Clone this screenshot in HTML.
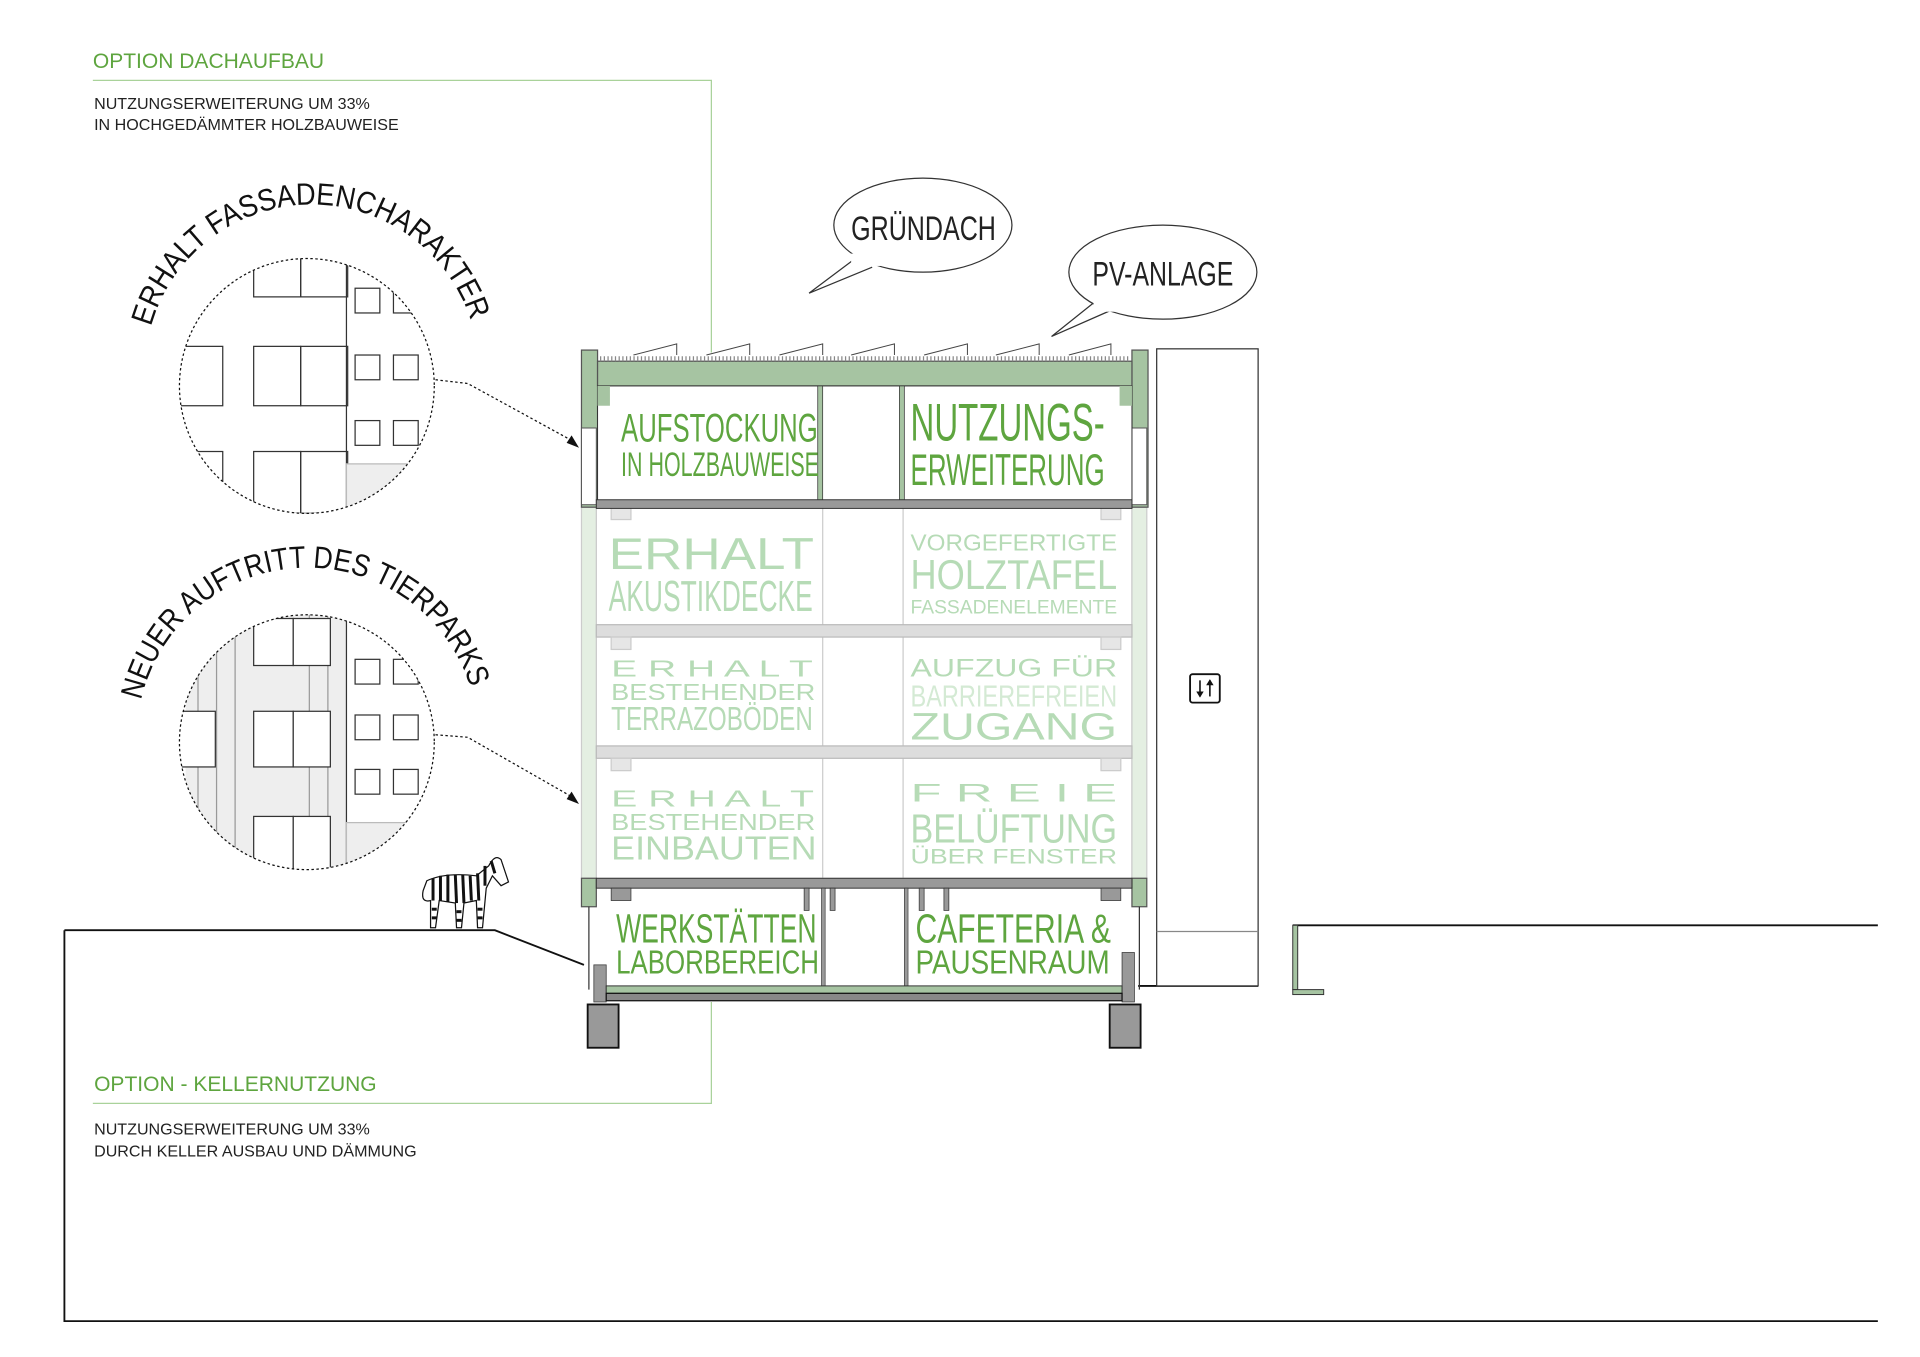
<!DOCTYPE html>
<html><head><meta charset="utf-8"><style>
html,body{margin:0;padding:0;background:#fff;}
svg{display:block;}
text{font-family:"Liberation Sans Narrow","Liberation Sans",sans-serif;}
.g{fill:#5ea53f}
.p{fill:#b6dbb6}
.p2{fill:#d4ead4}
</style></head><body>
<svg width="1920" height="1357" viewBox="0 0 1552 1097" xmlns="http://www.w3.org/2000/svg">
<rect width="1552" height="1097" fill="#fff"/>
<g stroke="#a9d29a" stroke-width="1" fill="none">
<polyline points="75,65 575,65 575,285"/>
<polyline points="575,810 575,892 75,892"/>
</g>
<text x="75" y="55" font-size="17" class="g" style="font-family:'Liberation Sans'">OPTION DACHAUFBAU</text>
<text x="76" y="88" font-size="13" style="font-family:'Liberation Sans'" fill="#222">NUTZUNGSERWEITERUNG UM 33%</text>
<text x="76" y="105" font-size="13" style="font-family:'Liberation Sans'" fill="#222">IN HOCHGEDÄMMTER HOLZBAUWEISE</text>
<text x="76" y="882" font-size="17" class="g" style="font-family:'Liberation Sans'">OPTION - KELLERNUTZUNG</text>
<text x="76" y="917" font-size="13" style="font-family:'Liberation Sans'" fill="#222">NUTZUNGSERWEITERUNG UM 33%</text>
<text x="76" y="935" font-size="13" style="font-family:'Liberation Sans'" fill="#222">DURCH KELLER AUSBAU UND DÄMMUNG</text>

<g stroke="#111" stroke-width="1.5" fill="none">
<polyline points="52,752 52,1068 1518,1068"/>
<polyline points="52,752 400,752 472,780"/>
<polyline points="920,797 1017,797"/>
<polyline points="1045,748 1518,748"/>
</g>
<rect x="1045" y="748" width="4" height="52" fill="#a6c4a2" stroke="#333" stroke-width="0.8"/>
<rect x="1045" y="800" width="25" height="4" fill="#a6c4a2" stroke="#333" stroke-width="0.8"/>

<rect x="935" y="282" width="82" height="515" fill="#fff" stroke="#333" stroke-width="1"/>
<line x1="935" y1="753" x2="1017" y2="753" stroke="#888"/>
<rect x="962" y="545" width="24" height="23" rx="2" fill="#fff" stroke="#111" stroke-width="1.5"/>
<g stroke="#111" stroke-width="1.3"><line x1="970" y1="550" x2="970" y2="563"/><line x1="978" y1="550" x2="978" y2="563"/></g>
<polygon points="967,559 973,559 970,564" fill="#111"/><polygon points="975,554 981,554 978,549" fill="#111"/>

<g fill="none" stroke="#ccc" stroke-width="1">
<rect x="482" y="410" width="433" height="300"/>
<line x1="665" y1="410" x2="665" y2="710"/><line x1="730" y1="410" x2="730" y2="710"/>
</g>
<rect x="470" y="410" width="12" height="300" fill="#e4efe2" stroke="#ccc"/>
<rect x="915" y="410" width="12" height="300" fill="#e4efe2" stroke="#ccc"/>
<rect x="482" y="505" width="433" height="10" fill="#ddd" stroke="#bbb"/>
<rect x="482" y="603" width="433" height="10" fill="#ddd" stroke="#bbb"/>
<g fill="#e6e6e6" stroke="#ccc">
<rect x="494" y="410" width="16" height="10"/><rect x="890" y="410" width="16" height="10"/>
<rect x="494" y="515" width="16" height="10"/><rect x="890" y="515" width="16" height="10"/>
<rect x="494" y="613" width="16" height="10"/><rect x="890" y="613" width="16" height="10"/>
</g>
<rect x="470" y="283" width="13" height="127" fill="#a6c4a2" stroke="#555" stroke-width="1"/>
<rect x="915" y="283" width="13" height="127" fill="#a6c4a2" stroke="#555" stroke-width="1"/>
<rect x="470" y="346" width="12" height="62" fill="#fff" stroke="#555" stroke-width="0.8"/>
<rect x="915" y="346" width="12" height="62" fill="#fff" stroke="#555" stroke-width="0.8"/>
<rect x="483" y="292" width="432" height="20" fill="#a6c4a2" stroke="#555" stroke-width="1"/>
<line x1="485" y1="290" x2="913" y2="290" stroke="#888" stroke-dasharray="1,2" stroke-width="4"/>
<g stroke="#444" stroke-width="0.8" fill="none">
<polyline points="512,287 547,278 547,287"/>
<polyline points="571,287 606,278 606,287"/>
<polyline points="630,287 665,278 665,287"/>
<polyline points="688,287 723,278 723,287"/>
<polyline points="747,287 782,278 782,287"/>
<polyline points="805,287 840,278 840,287"/>
<polyline points="864,287 898,278 898,287"/>
</g>
<rect x="483" y="312" width="432" height="93" fill="#fff" stroke="#333" stroke-width="0.8"/>
<rect x="483" y="312" width="10" height="16" fill="#a6c4a2"/><rect x="905" y="312" width="10" height="16" fill="#a6c4a2"/>
<rect x="661" y="312" width="4" height="93" fill="#a6c4a2" stroke="#333" stroke-width="0.6"/>
<rect x="727" y="312" width="4" height="93" fill="#a6c4a2" stroke="#333" stroke-width="0.6"/>
<rect x="482" y="404" width="433" height="7" fill="#999" stroke="#333" stroke-width="0.8"/>
<rect x="470" y="710" width="12" height="23" fill="#a6c4a2" stroke="#555"/>
<rect x="915" y="710" width="12" height="23" fill="#a6c4a2" stroke="#555"/>
<rect x="482" y="710" width="433" height="8" fill="#999" stroke="#333" stroke-width="0.8"/>
<g fill="#999" stroke="#333" stroke-width="0.6">
<rect x="494" y="718" width="16" height="10"/><rect x="890" y="718" width="16" height="10"/>
<rect x="650" y="718" width="4" height="18"/><rect x="671" y="718" width="4" height="18"/>
<rect x="743" y="718" width="4" height="18"/><rect x="763" y="718" width="4" height="18"/>
</g>
<line x1="476" y1="733" x2="476" y2="800" stroke="#333"/>
<line x1="921" y1="733" x2="921" y2="800" stroke="#333"/>
<rect x="664" y="718" width="3" height="80" fill="#999" stroke="#333" stroke-width="0.5"/>
<rect x="731" y="718" width="3" height="80" fill="#999" stroke="#333" stroke-width="0.5"/>
<rect x="480" y="780" width="10" height="30" fill="#999" stroke="#333" stroke-width="0.6"/>
<rect x="907" y="770" width="10" height="40" fill="#999" stroke="#333" stroke-width="0.6"/>
<rect x="490" y="797" width="417" height="6" fill="#a6c4a2" stroke="#333" stroke-width="0.8"/>
<rect x="490" y="803" width="417" height="6" fill="#888" stroke="#111" stroke-width="1"/>
<rect x="475" y="812" width="25" height="35" fill="#999" stroke="#111" stroke-width="1.5"/>
<rect x="897" y="812" width="25" height="35" fill="#999" stroke="#111" stroke-width="1.5"/>

<g>
<text x="502" y="357" font-size="32" class="g" textLength="159" lengthAdjust="spacingAndGlyphs">AUFSTOCKUNG</text>
<text x="502" y="385" font-size="28" class="g" textLength="160" lengthAdjust="spacingAndGlyphs">IN HOLZBAUWEISE</text>
<text x="736" y="356" font-size="43" class="g" textLength="157" lengthAdjust="spacingAndGlyphs">NUTZUNGS-</text>
<text x="736" y="392" font-size="36" class="g" textLength="157" lengthAdjust="spacingAndGlyphs">ERWEITERUNG</text>

<text x="492" y="460" font-size="36" class="p" textLength="166" lengthAdjust="spacingAndGlyphs" style="font-family:'Liberation Sans'">ERHALT</text>
<text x="492" y="494" font-size="35" class="p" textLength="165" lengthAdjust="spacingAndGlyphs">AKUSTIKDECKE</text>
<text x="736" y="445" font-size="19" class="p" textLength="167" lengthAdjust="spacingAndGlyphs" style="font-family:'Liberation Sans'">VORGEFERTIGTE</text>
<text x="736" y="476" font-size="34" class="p" textLength="167" lengthAdjust="spacingAndGlyphs">HOLZTAFEL</text>
<text x="736" y="496" font-size="16" class="p" textLength="167" lengthAdjust="spacingAndGlyphs" style="font-family:'Liberation Sans'">FASSADENELEMENTE</text>

<text x="494" y="547" font-size="19" class="p" textLength="163" lengthAdjust="spacingAndGlyphs" style="font-family:'Liberation Sans'">E R H A L T</text>
<text x="494" y="566" font-size="19" class="p" textLength="165" lengthAdjust="spacingAndGlyphs" style="font-family:'Liberation Sans'">BESTEHENDER</text>
<text x="494" y="590" font-size="27" class="p" textLength="163" lengthAdjust="spacingAndGlyphs">TERRAZOBÖDEN</text>
<text x="736" y="547" font-size="20" class="p" textLength="167" lengthAdjust="spacingAndGlyphs" style="font-family:'Liberation Sans'">AUFZUG FÜR</text>
<text x="736" y="571" font-size="25" class="p2" textLength="167" lengthAdjust="spacingAndGlyphs">BARRIEREFREIEN</text>
<text x="736" y="598" font-size="31" class="p" textLength="167" lengthAdjust="spacingAndGlyphs" style="font-family:'Liberation Sans'">ZUGANG</text>

<text x="494" y="652" font-size="19" class="p" textLength="164" lengthAdjust="spacingAndGlyphs" style="font-family:'Liberation Sans'">E R H A L T</text>
<text x="494" y="671" font-size="19" class="p" textLength="165" lengthAdjust="spacingAndGlyphs" style="font-family:'Liberation Sans'">BESTEHENDER</text>
<text x="494" y="695" font-size="27" class="p" textLength="166" lengthAdjust="spacingAndGlyphs" style="font-family:'Liberation Sans'">EINBAUTEN</text>
<text x="736" y="648" font-size="20" class="p" textLength="167" lengthAdjust="spacingAndGlyphs" style="font-family:'Liberation Sans'">F R E I E</text>
<text x="736" y="681" font-size="33" class="p" textLength="167" lengthAdjust="spacingAndGlyphs">BELÜFTUNG</text>
<text x="736" y="698" font-size="17" class="p" textLength="167" lengthAdjust="spacingAndGlyphs" style="font-family:'Liberation Sans'">ÜBER FENSTER</text>

<text x="498" y="762" font-size="33" class="g" textLength="162" lengthAdjust="spacingAndGlyphs">WERKSTÄTTEN</text>
<text x="498" y="787" font-size="27" class="g" textLength="164" lengthAdjust="spacingAndGlyphs">LABORBEREICH</text>
<text x="740" y="762" font-size="33" class="g" textLength="158" lengthAdjust="spacingAndGlyphs">CAFETERIA &amp;</text>
<text x="740" y="787" font-size="27" class="g" textLength="157" lengthAdjust="spacingAndGlyphs">PAUSENRAUM</text>
</g>

<g fill="#fff" stroke="#333" stroke-width="1">
<path d="M690,210 L654,237 L705,216"/>
<ellipse cx="746" cy="182" rx="72" ry="38"/>
<path d="M885,244 L850,272 L900,250"/>
<ellipse cx="940" cy="220" rx="76" ry="38"/>
</g>
<rect x="688" y="205" width="24" height="10" fill="#fff"/>
<rect x="884" y="240" width="24" height="12" fill="#fff"/>
<text x="688" y="194" font-size="28" fill="#222" textLength="117" lengthAdjust="spacingAndGlyphs">GRÜNDACH</text>
<text x="883" y="231" font-size="28" fill="#222" textLength="114" lengthAdjust="spacingAndGlyphs">PV-ANLAGE</text>

<defs>
<clipPath id="c1"><circle cx="248" cy="312" r="103"/></clipPath>
<clipPath id="c2"><circle cx="248" cy="600" r="103"/></clipPath>
<path id="a1" d="M122,264 A135,135 0 0 1 382,264"/>
<path id="a2" d="M114,566 A138,138 0 0 1 382,562"/>
</defs>
<g clip-path="url(#c1)" fill="none" stroke="#333" stroke-width="1">
<rect x="142" y="280" width="38" height="48"/><rect x="142" y="365" width="38" height="50"/>
<rect x="205" y="205" width="38" height="35"/><rect x="243" y="205" width="38" height="35"/>
<rect x="205" y="280" width="38" height="48"/><rect x="243" y="280" width="38" height="48"/>
<rect x="205" y="365" width="38" height="50"/><rect x="243" y="365" width="38" height="50"/>
<line x1="280" y1="190" x2="280" y2="420"/>
<rect x="287" y="233" width="20" height="20"/><rect x="318" y="233" width="20" height="20"/>
<rect x="287" y="287" width="20" height="20"/><rect x="318" y="287" width="20" height="20"/>
<rect x="287" y="340" width="20" height="20"/><rect x="318" y="340" width="20" height="20"/>
<rect x="280" y="375" width="80" height="40" fill="#eee" stroke="#bbb"/>
</g>
<circle cx="248" cy="312" r="103" fill="none" stroke="#111" stroke-width="1" stroke-dasharray="2,2"/>
<g clip-path="url(#c2)" fill="none" stroke="#333" stroke-width="1">
<rect x="150" y="495" width="130" height="210" fill="#eee" stroke="none"/>
<g stroke="#999"><line x1="160" y1="495" x2="160" y2="705"/><line x1="175" y1="495" x2="175" y2="705"/><line x1="190" y1="495" x2="190" y2="705"/><line x1="250" y1="495" x2="250" y2="705"/><line x1="265" y1="495" x2="265" y2="705"/></g>
<rect x="142" y="575" width="32" height="45" fill="#fff"/>
<rect x="205" y="500" width="32" height="38" fill="#fff"/><rect x="237" y="500" width="30" height="38" fill="#fff"/>
<rect x="205" y="575" width="32" height="45" fill="#fff"/><rect x="237" y="575" width="30" height="45" fill="#fff"/>
<rect x="205" y="660" width="32" height="45" fill="#fff"/><rect x="237" y="660" width="30" height="45" fill="#fff"/>
<line x1="280" y1="480" x2="280" y2="710"/>
<rect x="287" y="533" width="20" height="20"/><rect x="318" y="533" width="20" height="20"/>
<rect x="287" y="578" width="20" height="20"/><rect x="318" y="578" width="20" height="20"/>
<rect x="287" y="622" width="20" height="20"/><rect x="318" y="622" width="20" height="20"/>
<rect x="280" y="665" width="80" height="40" fill="#eee" stroke="#bbb"/>
</g>
<circle cx="248" cy="600" r="103" fill="none" stroke="#111" stroke-width="1" stroke-dasharray="2,2"/>
<text font-size="25" fill="#111"><textPath href="#a1" textLength="345" lengthAdjust="spacingAndGlyphs">ERHALT FASSADENCHARAKTER</textPath></text>
<text font-size="25" fill="#111"><textPath href="#a2" textLength="360" lengthAdjust="spacingAndGlyphs">NEUER AUFTRITT DES TIERPARKS</textPath></text>
<g fill="none" stroke="#111" stroke-width="1" stroke-dasharray="2,2">
<polyline points="352,307 378,310 462,356"/>
<polyline points="352,594 378,596 462,644"/>
</g>
<polygon points="468,362 458,358 462,352" fill="#111"/>
<polygon points="468,650 458,646 462,640" fill="#111"/>

<g>
<path d="M345,712 Q360,705 385,708 L395,700 Q400,690 405,695 L411,713 L405,716 L398,708 L393,718 L390,750 L386,750 L385,728 L375,730 L373,750 L369,750 L368,730 L355,728 L352,750 L348,750 L348,728 Q340,730 342,720 Z" fill="#fff" stroke="#111" stroke-width="1"/>
<g stroke="#111" stroke-width="2.4">
<line x1="350" y1="710" x2="350" y2="728"/><line x1="356" y1="708" x2="356" y2="728"/>
<line x1="362" y1="707" x2="362" y2="729"/><line x1="368" y1="707" x2="369" y2="730"/>
<line x1="374" y1="707" x2="375" y2="730"/><line x1="380" y1="708" x2="381" y2="728"/>
<line x1="386" y1="706" x2="387" y2="728"/><line x1="392" y1="700" x2="392" y2="716"/>
<line x1="397" y1="696" x2="400" y2="706"/>
<line x1="349" y1="735" x2="353" y2="735"/><line x1="349" y1="742" x2="353" y2="742"/>
<line x1="369" y1="737" x2="373" y2="737"/><line x1="369" y1="744" x2="373" y2="744"/>
<line x1="386" y1="735" x2="390" y2="735"/><line x1="386" y1="742" x2="390" y2="742"/>
</g>
</g>
</svg>
</body></html>
